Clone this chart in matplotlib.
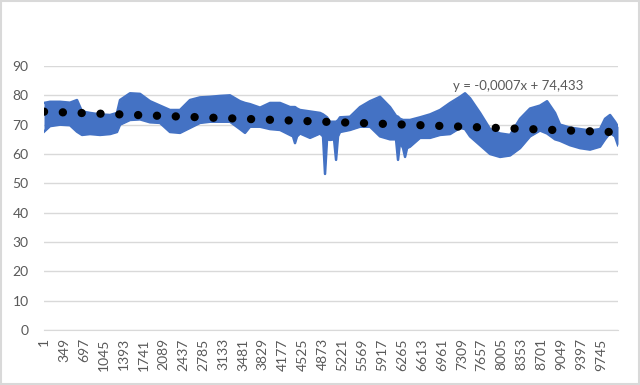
import numpy as np
import matplotlib.pyplot as plt
from matplotlib.patches import Rectangle

# envelope of the noisy series (index, upper, lower)
idx = [1, 106, 281, 456, 578, 666, 806, 981, 1156, 1278, 1331, 1506, 1681, 1856,
       2030, 2205, 2380, 2555, 2730, 2905, 3080, 3255, 3430, 3517, 3605, 3780, 3955,
       4130, 4305, 4357, 4392, 4427, 4480, 4655, 4830, 4882, 4917, 4952, 5004, 5075,
       5110, 5144, 5179, 5354, 5529, 5704, 5879, 6054, 6159, 6194, 6229, 6282, 6317,
       6352, 6404, 6579, 6754, 6929, 7104, 7279, 7366, 7454, 7629, 7804, 7979, 8154,
       8328, 8503, 8678, 8801, 8941, 9028, 9203, 9378, 9553, 9728, 9815, 9903, 9990,
       10042]
upper = [77.4, 77.8, 77.8, 77.5, 78.4, 74.5, 74.0, 73.5, 73.3, 74.0, 78.4, 80.7, 80.5, 78.0,
         76.5, 75.0, 75.0, 78.4, 79.3, 79.5, 79.8, 80.0, 78.0, 77.4, 77.0, 75.8, 77.4,
         77.4, 76.0, 76.0, 76.0, 75.5, 75.0, 74.5, 74.0, 73.5, 73.0, 72.5, 71.0, 71.0,
         71.0, 71.5, 72.5, 72.7, 76.0, 78.0, 79.5, 76.0, 73.0, 72.7, 72.0, 71.6, 71.6,
         71.6, 71.6, 72.5, 73.5, 75.0, 77.4, 79.5, 80.7, 79.0, 74.0, 68.5, 67.0, 66.5,
         72.0, 75.5, 76.5, 78.0, 74.0, 70.0, 69.0, 68.5, 68.0, 68.5, 72.0, 73.3, 71.0,
         69.3]
lower = [67.6, 69.5, 70.0, 69.8, 67.6, 66.5, 66.8, 66.5, 66.8, 67.5, 70.0, 71.6, 71.8, 70.8,
         70.6, 67.5, 67.2, 68.9, 70.6, 71.0, 71.0, 71.0, 68.5, 67.2, 69.3, 69.3, 68.5,
         68.2, 66.5, 66.0, 63.7, 66.0, 67.0, 65.5, 67.0, 66.0, 53.2, 65.0, 64.8, 65.0,
         58.0, 66.0, 67.5, 68.2, 69.3, 69.3, 66.0, 65.0, 65.0, 58.0, 64.0, 62.0, 59.0,
         62.0, 62.5, 65.5, 65.5, 66.5, 66.8, 68.9, 68.5, 66.0, 63.0, 60.0, 59.0, 59.5,
         62.0, 66.0, 68.0, 67.0, 65.0, 64.5, 63.0, 62.0, 61.5, 62.5, 65.0, 67.2, 66.0,
         63.0]

n_points = 10042
slope = -0.0007
intercept = 74.433

blue = "#4472C4"
grey_text = "#595959"
grid = "#D9D9D9"

fig = plt.figure(figsize=(6.4, 3.85), dpi=100)
ax = fig.add_axes([44 / 640, 1 - 330 / 385, 574 / 640, 264 / 385])

ax.fill_between(idx, lower, upper, color=blue, lw=0)
ax.plot(idx, upper, color=blue, lw=1.8)
ax.plot(idx, lower, color=blue, lw=1.8)

# linear trendline, dotted with round dots like Excel's
trend_x = np.array([1, n_points])
ax.plot(trend_x, slope * trend_x + intercept, color="black", lw=6,
        linestyle=(0, (0.01, 2.25)), dash_capstyle="round")

ax.text(0.713, 0.925, "y = -0,0007x + 74,433", transform=ax.transAxes,
        fontsize=9.5, color=grey_text, family="Lato", ha="left", va="center")

ax.set_xlim(1, n_points)
ax.set_ylim(0, 90)
ax.set_yticks(range(0, 91, 10))
ticks = np.arange(1, n_points + 1, 348)
ax.set_xticks(ticks)
ax.set_xticklabels([str(t) for t in ticks], rotation=90)

ax.grid(axis="y", color=grid, lw=1)
ax.set_axisbelow(True)
for s in ["top", "right", "left"]:
    ax.spines[s].set_visible(False)
ax.spines["bottom"].set_color(grid)
ax.tick_params(length=0, colors=grey_text, labelsize=10)
ax.tick_params(axis="y", pad=11)
ax.tick_params(axis="x", pad=6)
for lab in ax.get_xticklabels() + ax.get_yticklabels():
    lab.set_family("Lato")

fig.patches.append(Rectangle((0.002, 0.003), 0.996, 0.994, transform=fig.transFigure,
                             fill=False, edgecolor=grid, lw=1.5))

fig.savefig("out.png", dpi=100)
